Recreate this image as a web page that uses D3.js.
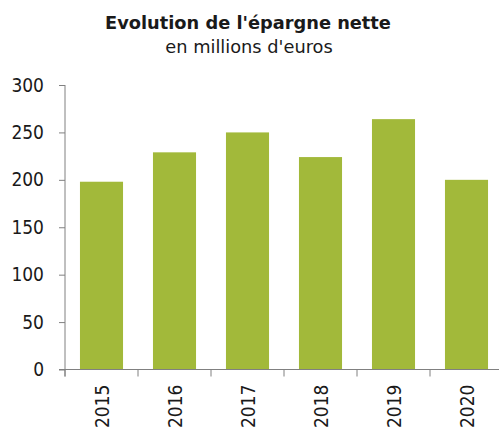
<!DOCTYPE html>
<html>
<head>
<meta charset="utf-8">
<script src="https://cdn.jsdelivr.net/npm/d3@7"></script>
<style>
  body { margin: 0; background: #fff; }
  svg text { font-family: "DejaVu Sans Condensed", "DejaVu Sans", sans-serif; fill: #1a1a1a; }
  svg text.title { font-family: "DejaVu Sans", sans-serif; }
</style>
</head>
<body>
<svg id="chart" width="499" height="428"></svg>
<script>
const years = ['2015', '2016', '2017', '2018', '2019', '2020'];
const savings = [198, 229, 250, 224, 264, 200];
const yTicks = [0, 50, 100, 150, 200, 250, 300];

const width = 499, height = 428;
const plotLeft = 65, plotTop = 85, plotBottom = 369.5;
const axisColor = '#808080';

const svg = d3.select('#chart');

const x = d3.scaleBand()
  .domain(years)
  .range([plotLeft, plotLeft + 73 * years.length])
  .paddingInner(0.41)
  .paddingOuter(0.205);

const y = d3.scaleLinear()
  .domain([0, 300])
  .range([plotBottom, plotTop]);

// title
svg.append('text')
  .attr('class', 'title')
  .attr('x', 248).attr('y', 29)
  .attr('text-anchor', 'middle')
  .style('font-size', '17.8px')
  .style('font-weight', 'bold')
  .text("Evolution de l'épargne nette");
svg.append('text')
  .attr('class', 'title')
  .attr('x', 249).attr('y', 53)
  .attr('text-anchor', 'middle')
  .style('font-size', '17.8px')
  .text("en millions d'euros");

// bars
svg.append('g').selectAll('rect')
  .data(years)
  .join('rect')
  .attr('x', d => x(d))
  .attr('width', x.bandwidth())
  .attr('y', (d, i) => y(savings[i]))
  .attr('height', (d, i) => y(0) - y(savings[i]))
  .attr('fill', '#a2b93a');

// y axis
const yAxis = svg.append('g')
  .attr('transform', `translate(${plotLeft},0)`)
  .call(d3.axisLeft(y).tickValues(yTicks).tickSize(6).tickPadding(15));
yAxis.select('.domain').remove();
yAxis.selectAll('line').attr('stroke', axisColor);
yAxis.selectAll('text').style('font-size', '19px').attr('fill', '#1a1a1a');
yAxis.append('line')
  .attr('x1', 0).attr('x2', 0)
  .attr('y1', y(300)).attr('y2', plotBottom + 7)
  .attr('stroke', axisColor);

// x axis: line plus ticks between categories
const step = x.step();
const bounds = years.map(d => x(d) - (step - x.bandwidth()) / 2);
bounds.push(bounds[bounds.length - 1] + step);
const xAxis = svg.append('g');
xAxis.append('line')
  .attr('x1', plotLeft - 6).attr('x2', width)
  .attr('y1', plotBottom).attr('y2', plotBottom)
  .attr('stroke', axisColor);
xAxis.selectAll('line.tick')
  .data(bounds)
  .join('line')
  .attr('class', 'tick')
  .attr('x1', d => d).attr('x2', d => d)
  .attr('y1', plotBottom).attr('y2', plotBottom + 7)
  .attr('stroke', axisColor);
xAxis.selectAll('text')
  .data(years)
  .join('text')
  .attr('transform', d => `translate(${x(d) + x.bandwidth() / 2 + 7},${plotBottom + 15}) rotate(-90)`)
  .attr('text-anchor', 'end')
  .style('font-size', '19px')
  .text(d => d);
</script>
</body>
</html>
